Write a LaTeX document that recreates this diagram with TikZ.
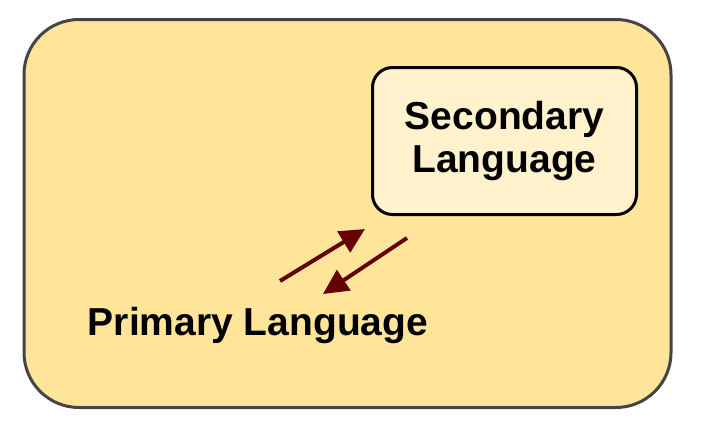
\documentclass[tikz,border=0pt]{standalone}
\usepackage{fontspec}
\setmainfont{Liberation Sans}
\usetikzlibrary{arrows.meta}
\definecolor{outerfill}{HTML}{FFE599}
\definecolor{innerfill}{HTML}{FFF2CC}
\definecolor{outerline}{HTML}{444444}
\definecolor{arrowcol}{HTML}{660000}
\tikzset{
  outerbox/.style={draw=outerline, fill=outerfill, line width=3pt, rounded corners=55pt, minimum width=647pt, minimum height=388pt, inner sep=0pt},
  innerbox/.style={draw=black, fill=innerfill, line width=3pt, rounded corners=20pt, minimum width=264pt, minimum height=147pt, align=center, font=\fontsize{39}{43}\selectfont\bfseries},
  label/.style={font=\fontsize{39}{43}\selectfont\bfseries, inner sep=0pt},
  link/.style={draw=arrowcol, line width=4pt, -{Triangle[length=25pt,width=24pt]}}
}
\begin{document}
\begin{tikzpicture}[x=1pt,y=-1pt]
\useasboundingbox (0,0) rectangle (702,426);
\node[outerbox] (outer) at (347.5,213.5) {};
\node[innerbox] (sec) at (504.5,141) {Secondary\\Language};
\node[label] (prim) at (258,325) {Primary Language};
\coordinate (a1s) at (280,281);
\coordinate (a1e) at (365,229);
\coordinate (a2s) at (407,238);
\coordinate (a2e) at (323,294);
\draw[link] (a1s) -- (a1e);
\draw[link] (a2s) -- (a2e);
\end{tikzpicture}
\end{document}
